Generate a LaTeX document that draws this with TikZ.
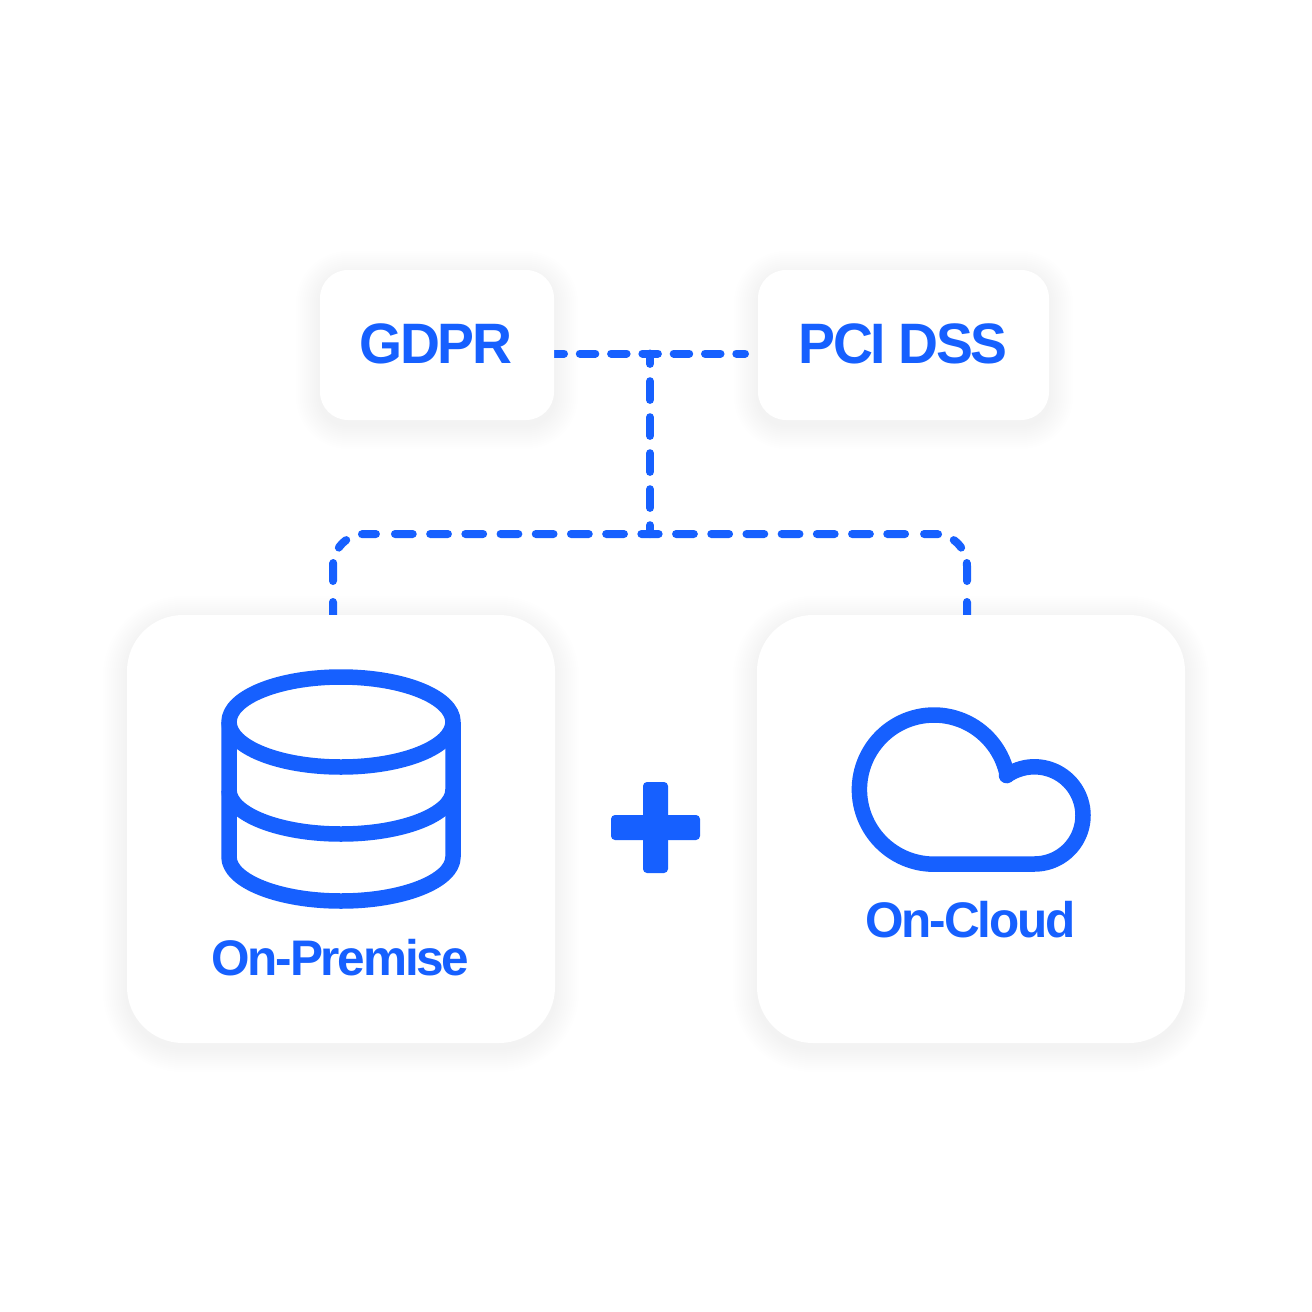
\documentclass[tikz,border=0pt]{standalone}
\usepackage{fontspec}
\setmainfont[LetterSpace=-4.4]{Liberation Sans}
\newfontfamily\headfont[LetterSpace=-4.4,FakeStretch=0.97]{Liberation Sans}
\newfontfamily\labelfont[LetterSpace=-4.4,FakeStretch=0.99]{Liberation Sans}
\definecolor{brandblue}{HTML}{1660FF}
\pgfdeclarelayer{shadowlayer}
\pgfdeclarelayer{linelayer}
\pgfsetlayers{shadowlayer,linelayer,main}
\tikzset{
  card/.style={fill=white,draw=none,inner sep=0pt,outer sep=0pt,text=brandblue,font=\headfont\fontsize{57}{57}\selectfont\bfseries},
  smallcard/.style={card,rounded corners=28pt},
  bigcard/.style={card,rounded corners=56pt,minimum width=428pt,minimum height=428pt},
  cardlabel/.style={inner sep=0pt,text=brandblue,font=\labelfont\fontsize{50}{50}\selectfont\bfseries,anchor=base},
  dashline/.style={draw=brandblue,line width=8pt,line cap=round},
  icon/.style={draw=brandblue,line width=15.5pt,line join=round},
  topdash/.style={dashline,dash pattern=on 15.5pt off 15.8pt,dash phase=5.5pt},
  vertdash/.style={dashline,dash pattern=on 18.7pt off 17.3pt,dash phase=8.3pt},
  busdash/.style={dashline,rounded corners=32pt,dash pattern=on 15pt off 21pt on 18pt off 16.6pt on 10.6pt off 17pt on 14pt off 19pt on 17.8pt off 17.4pt on 17.8pt off 17.4pt on 17.8pt off 17.4pt on 17.8pt off 17.4pt on 17.8pt off 17.4pt on 17.8pt off 17.4pt on 17.8pt off 17.4pt on 30pt off 30pt},
}
\newcommand{\softshadow}[1]{%
  \foreach \r in {2,4,...,24}{%
    \pgfmathsetmacro{\rr}{#1+\r}%
    \path[fill=black,fill opacity=0.005,rounded corners=\rr pt]
      ([shift={(-\r,-\r+5)}]\currentcard.north west) rectangle ([shift={(\r,\r+5)}]\currentcard.south east);
  }%
}
\begin{document}
\begin{tikzpicture}[x=1pt,y=-1pt]
\useasboundingbox (0,0) rectangle (1312,1312);
% cards
\node[smallcard,minimum width=234pt,minimum height=150pt] (gdpr) at (437,345) {};
\node[smallcard,minimum width=291pt,minimum height=150pt] (pci) at (903.5,345) {};
\node[bigcard] (premise) at (341,829) {};
\node[bigcard] (cloud) at (971,829) {};
% card texts
\node[card,fill=none,anchor=base] (gdprtext) at (436,363) {GDPR};
\node[card,fill=none,anchor=base] (pcitext) at (903,363) {PCI DSS};
\node[cardlabel] (premisetext) at (340.5,975) {On-Premise};
\node[cardlabel] (cloudtext) at (970.5,937) {On-Cloud};
% shadows
\begin{pgfonlayer}{shadowlayer}
  \fill[white] (0,0) rectangle (1312,1312);
  \def\currentcard{gdpr}\softshadow{28}
  \def\currentcard{pci}\softshadow{28}
  \def\currentcard{premise}\softshadow{56}
  \def\currentcard{cloud}\softshadow{56}
\end{pgfonlayer}
% connectors
\begin{pgfonlayer}{linelayer}
  \coordinate (tee) at (650,353.5);
  \coordinate (bus) at (650,534);
  \draw[topdash] ([yshift=-8.5pt]gdpr.east) -- ([xshift=-13pt,yshift=-8.5pt]pci.west);
  \draw[vertdash] (tee) -- (bus);
  \draw[busdash] ([xshift=-8pt,yshift=-2pt]premise.north) |- (bus);
  \draw[busdash] ([xshift=-4pt,yshift=-2pt]cloud.north) |- (bus);
\end{pgfonlayer}
% database icon
\draw[icon] (341,722) ellipse [x radius=112,y radius=45];
\draw[icon] (229,722) -- (229,857)
  .. controls (229,881) and (279,901) .. (341,901)
  .. controls (403,901) and (453,881) .. (453,857) -- (453,722);
\draw[icon] (229,790)
  .. controls (229,814) and (279,834) .. (341,834)
  .. controls (403,834) and (453,814) .. (453,790);
% plus
\fill[brandblue,rounded corners=4pt] (643,782) rectangle (668,873);
\fill[brandblue,rounded corners=4pt] (611,815) rectangle (700,840);
% cloud icon
\draw[icon] (934,864) -- (1034.4,864)
  -- plot[domain=90:-125,samples=70] ({1034.4+48.6*cos(\x)},{815.4+48.6*sin(\x)})
  -- (1006.5,775.5)
  -- plot[domain=-11:-270,samples=80] ({934+74.6*cos(\x)},{789.6+74.6*sin(\x)})
  -- cycle;
\end{tikzpicture}
\end{document}
